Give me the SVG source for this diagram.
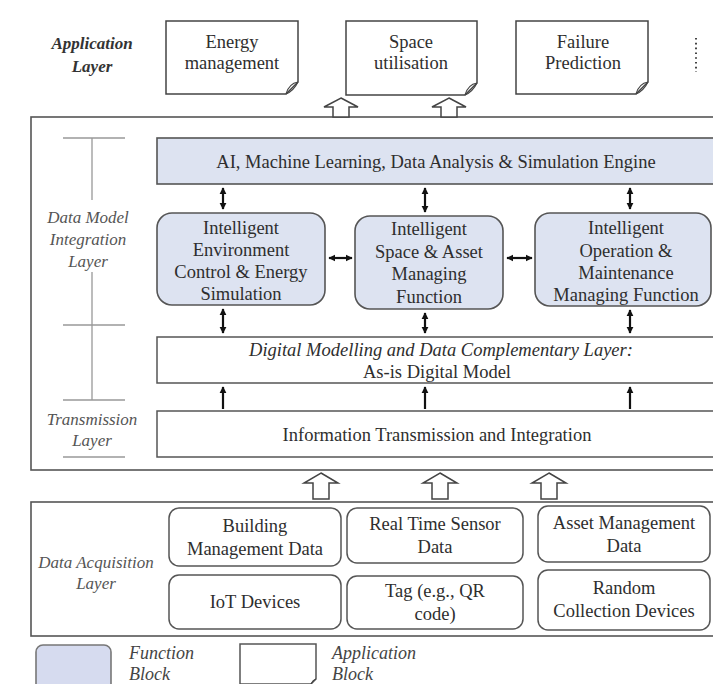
<svg xmlns="http://www.w3.org/2000/svg" width="713" height="684" viewBox="0 0 713 684">
  <style>
    text { font-family: "Liberation Serif", "Times New Roman", serif; fill: #2e2e2e; }
    .t { font-size: 18.5px; text-anchor: middle; }
    .lab { font-size: 17px; font-style: italic; text-anchor: middle; fill: #555; }
    .leg { font-size: 18px; font-style: italic; fill: #444; }
    .panel { fill: #fff; stroke: #555; stroke-width: 1.6; }
    .fn { fill: #dde3f1; stroke: #555; stroke-width: 1.6; }
    .box { fill: #fff; stroke: #555; stroke-width: 1.5; }
    .app { fill: #fff; stroke: #444; stroke-width: 1.5; }
    .curl { fill: none; stroke: #444; stroke-width: 1.2; }
    .bracket { stroke: #999; stroke-width: 1.3; fill: none; }
    .hollow { fill: #fff; stroke: #444; stroke-width: 1.5; stroke-linejoin: miter; }
    .link { stroke: #111; stroke-width: 2.2; fill: none; }
  </style>
  <defs>
    <marker id="ah" viewBox="0 0 10 10" refX="9" refY="5" markerWidth="3.2" markerHeight="3.2" orient="auto-start-reverse">
      <path d="M0,0 L10,5 L0,10 z" fill="#111"/>
    </marker>
  </defs>

  <rect width="713" height="684" fill="#fff"/>

  <!-- application layer -->
  <g id="app-energy">
    <path class="app" d="M166,21 H298 V82 L286,94 H166 Z"/>
    <path class="curl" d="M298,82 C292,83 288,87 286,94 M298,82 C295,88 291,92 286,94"/>
    <text class="t" x="232" y="48">Energy</text>
    <text class="t" x="232" y="69">management</text>
  </g>
  <g id="app-space">
    <path class="app" d="M346,21 H477 V83 L465,95 H346 Z"/>
    <path class="curl" d="M477,83 C471,84 467,88 465,95 M477,83 C474,89 470,93 465,95"/>
    <text class="t" x="411" y="48">Space</text>
    <text class="t" x="411" y="69">utilisation</text>
  </g>
  <g id="app-failure">
    <path class="app" d="M516,21 H648 V82 L636,94 H516 Z"/>
    <path class="curl" d="M648,82 C642,83 638,87 636,94 M648,82 C645,88 641,92 636,94"/>
    <text class="t" x="583" y="48">Failure</text>
    <text class="t" x="583" y="69">Prediction</text>
  </g>
  <g id="app-more">
    <line x1="696" y1="38" x2="696" y2="72" stroke="#444" stroke-width="2" stroke-dasharray="1.6 3.2"/>
  </g>

  <!-- data model integration & transmission panel -->
  <g id="panel-main">
    <rect class="panel" x="31" y="117" width="700" height="353"/>
    <path class="bracket" d="M63,138 H125 M92,138 V200 M92,272 V400 M63,325 H125 M63,400 H125 M63,457 H125"/>
  </g>

  <g id="engine">
    <rect class="fn" x="157" y="138" width="570" height="46"/>
    <text class="t" x="436" y="168">AI, Machine Learning, Data Analysis &amp; Simulation Engine</text>
  </g>

  <g id="fn-environment">
    <rect class="fn" x="157" y="213" width="168" height="92" rx="15"/>
    <text class="t" x="241" y="234">Intelligent</text>
    <text class="t" x="241" y="256">Environment</text>
    <text class="t" x="241" y="278">Control &amp; Energy</text>
    <text class="t" x="241" y="300">Simulation</text>
  </g>
  <g id="fn-space">
    <rect class="fn" x="355" y="216" width="148" height="93" rx="15"/>
    <text class="t" x="429" y="235">Intelligent</text>
    <text class="t" x="429" y="258">Space &amp; Asset</text>
    <text class="t" x="429" y="280">Managing</text>
    <text class="t" x="429" y="303">Function</text>
  </g>
  <g id="fn-operation">
    <rect class="fn" x="535" y="213" width="176" height="93" rx="15"/>
    <text class="t" x="626" y="234">Intelligent</text>
    <text class="t" x="626" y="257">Operation &amp;</text>
    <text class="t" x="626" y="279">Maintenance</text>
    <text class="t" x="626" y="301">Managing Function</text>
  </g>

  <g id="digital-model">
    <rect class="box" x="157" y="337" width="570" height="46"/>
    <text class="t" x="441" y="356" style="font-style:italic">Digital Modelling and Data Complementary Layer:</text>
    <text class="t" x="437" y="378">As-is Digital Model</text>
  </g>

  <g id="transmission">
    <rect class="box" x="157" y="411" width="570" height="46"/>
    <text class="t" x="437" y="441">Information Transmission and Integration</text>
  </g>

  <!-- data acquisition panel -->
  <g id="panel-acquisition">
    <rect class="panel" x="31" y="502" width="700" height="134"/>
  </g>
  <g id="src-bms">
    <rect class="box" x="169" y="508" width="172" height="58" rx="10"/>
    <text class="t" x="255" y="532">Building</text>
    <text class="t" x="255" y="555">Management  Data</text>
  </g>
  <g id="src-sensor">
    <rect class="box" x="347" y="508" width="176" height="55" rx="10"/>
    <text class="t" x="435" y="530">Real Time Sensor</text>
    <text class="t" x="435" y="553">Data</text>
  </g>
  <g id="src-asset">
    <rect class="box" x="538" y="506" width="172" height="56" rx="10"/>
    <text class="t" x="624" y="529">Asset Management</text>
    <text class="t" x="624" y="552">Data</text>
  </g>
  <g id="src-iot">
    <rect class="box" x="169" y="575" width="172" height="54" rx="10"/>
    <text class="t" x="255" y="608">IoT Devices</text>
  </g>
  <g id="src-tag">
    <rect class="box" x="347" y="576" width="176" height="53" rx="10"/>
    <text class="t" x="435" y="597">Tag (e.g., QR</text>
    <text class="t" x="435" y="620">code)</text>
  </g>
  <g id="src-random">
    <rect class="box" x="538" y="570" width="172" height="60" rx="10"/>
    <text class="t" x="624" y="594">Random</text>
    <text class="t" x="624" y="617">Collection  Devices</text>
  </g>

  <!-- layer labels -->
  <g id="labels">
    <text class="lab" x="92" y="49" style="fill:#333;font-weight:bold">Application</text>
    <text class="lab" x="92" y="72" style="fill:#333;font-weight:bold">Layer</text>
    <text class="lab" x="88" y="223">Data Model</text>
    <text class="lab" x="88" y="245">Integration</text>
    <text class="lab" x="88" y="267">Layer</text>
    <text class="lab" x="92" y="425">Transmission</text>
    <text class="lab" x="92" y="446">Layer</text>
    <text class="lab" x="96" y="568">Data Acquisition</text>
    <text class="lab" x="96" y="589">Layer</text>
  </g>

  <!-- legend -->
  <g id="legend-function">
    <rect class="fn" x="36" y="645" width="75" height="50" rx="7" style="fill:#d6dbef;stroke:#777"/>
    <text class="leg" x="129" y="659">Function</text>
    <text class="leg" x="129" y="680">Block</text>
  </g>
  <g id="legend-application">
    <path class="app" d="M240,644 H316 V679 L311,684 H240 Z" style="stroke:#555"/>
    <path class="curl" d="M316,679 C313,680 312,682 311,684"/>
    <text class="leg" x="332" y="659">Application</text>
    <text class="leg" x="332" y="680">Block</text>
  </g>

  <!-- connectors -->
  <g id="connectors">
    <!-- hollow block arrows -->
    <path class="hollow" d="M341,98 L358,107 H349 V117 H333 V107 H324 Z"/>
    <path class="hollow" d="M449,98 L466,107 H457 V117 H441 V107 H432 Z"/>
    <path class="hollow" d="M321,473 L338,483 H329 V499 H313 V483 H304 Z"/>
    <path class="hollow" d="M440,473 L457,483 H448 V499 H432 V483 H423 Z"/>
    <path class="hollow" d="M549,473 L566,483 H557 V499 H541 V483 H532 Z"/>
    <!-- engine <-> functions -->
    <line class="link" x1="223" y1="188" x2="223" y2="209" marker-start="url(#ah)" marker-end="url(#ah)"/>
    <line class="link" x1="425" y1="188" x2="425" y2="212" marker-start="url(#ah)" marker-end="url(#ah)"/>
    <line class="link" x1="630" y1="188" x2="630" y2="209" marker-start="url(#ah)" marker-end="url(#ah)"/>
    <!-- functions <-> functions -->
    <line class="link" x1="329" y1="258" x2="352" y2="258" marker-start="url(#ah)" marker-end="url(#ah)"/>
    <line class="link" x1="507" y1="258" x2="532" y2="258" marker-start="url(#ah)" marker-end="url(#ah)"/>
    <!-- functions <-> digital model -->
    <line class="link" x1="223" y1="309" x2="223" y2="333" marker-start="url(#ah)" marker-end="url(#ah)"/>
    <line class="link" x1="425" y1="313" x2="425" y2="333" marker-start="url(#ah)" marker-end="url(#ah)"/>
    <line class="link" x1="630" y1="310" x2="630" y2="333" marker-start="url(#ah)" marker-end="url(#ah)"/>
    <!-- transmission -> digital model -->
    <line class="link" x1="223" y1="409" x2="223" y2="387" marker-end="url(#ah)"/>
    <line class="link" x1="425" y1="409" x2="425" y2="387" marker-end="url(#ah)"/>
    <line class="link" x1="630" y1="409" x2="630" y2="387" marker-end="url(#ah)"/>
  </g>
</svg>
